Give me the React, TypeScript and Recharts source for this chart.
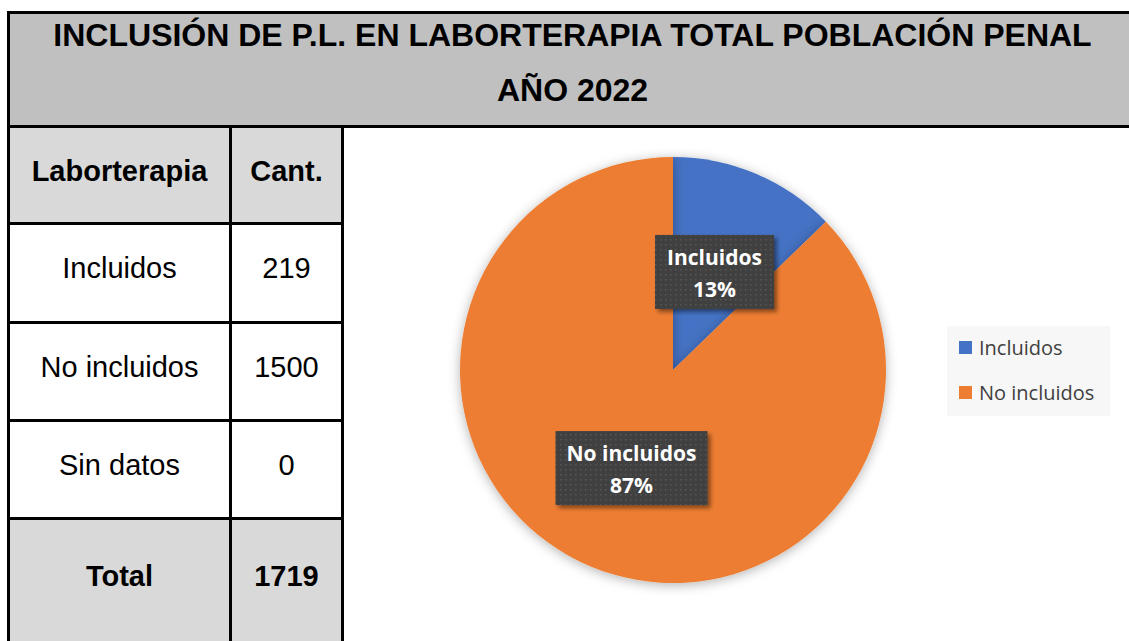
import { PieChart, Pie, Cell, Legend } from "recharts";

const categories = ["Incluidos", "No incluidos"];
const values = [219, 1500];
const sliceColors = ["#4472c4", "#ed7d31"];

const tableLabels = ["Incluidos", "No incluidos", "Sin datos"];
const tableValues = [219, 1500, 0];
const totalValue = 1719;

const titleLines = ["INCLUSIÓN DE P.L. EN LABORTERAPIA TOTAL POBLACIÓN PENAL", "AÑO 2022"];

const pieData = categories.map((name, i) => ({ name, value: values[i] }));

const RAD = Math.PI / 180;
const arial = "'Liberation Sans', Arial, sans-serif";
const calibri = "'Open Sans', Lato, sans-serif";

// etiqueta oscura con texto blanco, como en Excel
function SliceLabel(props: any) {
  const { cx, cy, midAngle, outerRadius, name, percent } = props;
  const r = outerRadius * 0.5;
  const x = cx + r * Math.cos(-midAngle * RAD);
  const y = cy + r * Math.sin(-midAngle * RAD);
  const w = name.length * 11 + 20;
  const h = 74;
  return (
    <g>
      <rect x={x - w / 2} y={y - h / 2} width={w} height={h} fill="url(#dots)" filter="url(#boxShadow)" />
      <text x={x} y={y - 13} textAnchor="middle" dominantBaseline="middle" fill="#fff" fontFamily={calibri} fontWeight={700} fontSize={21}>
        {name}
      </text>
      <text x={x} y={y + 19} textAnchor="middle" dominantBaseline="middle" fill="#fff" fontFamily={calibri} fontWeight={700} fontSize={21}>
        {Math.round(percent * 100)}%
      </text>
    </g>
  );
}

function LegendBox() {
  return (
    <div style={{ background: "#f7f7f7", width: 163, height: 90, boxSizing: "border-box", paddingTop: 10, paddingLeft: 12 }}>
      {categories.map((c, i) => (
        <div key={c} style={{ display: "flex", alignItems: "center", height: 23, marginBottom: i === 0 ? 22 : 0 }}>
          <span style={{ width: 13, height: 13, background: sliceColors[i], marginRight: 7, display: "inline-block" }} />
          <span style={{ fontFamily: calibri, fontSize: 20, color: "#404040" }}>{c}</span>
        </div>
      ))}
    </div>
  );
}

const line = "#000";

function Cell2({ x, y, w, h, text, bold, bg, size }: any) {
  return (
    <div
      style={{
        position: "absolute",
        left: x,
        top: y,
        width: w,
        height: h,
        background: bg,
        display: "flex",
        alignItems: "center",
        justifyContent: "center",
        fontFamily: arial,
        fontWeight: bold ? 700 : 400,
        fontSize: size,
        color: "#000",
        paddingBottom: 8,
        boxSizing: "border-box",
      }}
    >
      {text}
    </div>
  );
}

export default function App() {
  const rowTops = [224, 323, 421];
  return (
    <div style={{ position: "absolute", left: 0, top: 0, width: 1129, height: 641, background: "#fff", overflow: "hidden" }}>
      <svg width={0} height={0} style={{ position: "absolute" }}>
        <defs>
          <pattern id="dots" width={5} height={5} patternUnits="userSpaceOnUse">
            <rect width={5} height={5} fill="#404040" />
            <rect x={1} y={1} width={1.5} height={1.5} fill="#565656" />
          </pattern>
          <filter id="boxShadow" x="-20%" y="-20%" width="140%" height="140%">
            <feDropShadow dx={3} dy={3} stdDeviation={2} floodColor="#000" floodOpacity={0.45} />
          </filter>
          <filter id="pieShadow" x="-20%" y="-20%" width="140%" height="140%">
            <feDropShadow dx={0} dy={2} stdDeviation={6} floodColor="#000" floodOpacity={0.3} />
          </filter>
        </defs>
      </svg>

      {/* título */}
      <div style={{ position: "absolute", left: 7, top: 11, width: 1125, height: 117, background: "#c0c0c0", borderTop: `3px solid ${line}`, borderLeft: `3px solid ${line}`, borderBottom: `3px solid ${line}`, boxSizing: "border-box" }} />
      {titleLines.map((t, i) => (
        <div key={t} style={{ position: "absolute", left: 12, width: 1121, top: 15 + i * 55, height: 40, lineHeight: "40px", textAlign: "center", fontFamily: arial, fontWeight: 700, fontSize: 32, color: "#000" }}>
          {t}
        </div>
      ))}

      {/* tabla */}
      <Cell2 x={10} y={128} w={219} h={94} bg="#d9d9d9" text="Laborterapia" bold size={29} />
      <Cell2 x={232} y={128} w={109} h={94} bg="#d9d9d9" text="Cant." bold size={29} />
      {tableLabels.map((l, i) => (
        <div key={l}>
          <Cell2 x={10} y={rowTops[i]} w={219} h={96} bg="#fff" text={l} size={29} />
          <Cell2 x={232} y={rowTops[i]} w={109} h={96} bg="#fff" text={String(tableValues[i])} size={29} />
        </div>
      ))}
      <Cell2 x={10} y={519} w={219} h={122} bg="#d9d9d9" text="Total" bold size={29} />
      <Cell2 x={232} y={519} w={109} h={122} bg="#d9d9d9" text={String(totalValue)} bold size={29} />
      <div style={{ position: "absolute", left: 7, top: 128, width: 3, height: 513, background: line }} />
      <div style={{ position: "absolute", left: 229, top: 128, width: 3, height: 513, background: line }} />
      <div style={{ position: "absolute", left: 341, top: 128, width: 3, height: 513, background: line }} />
      {[222, 321, 419, 517].map((y) => (
        <div key={y} style={{ position: "absolute", left: 7, top: y, width: 337, height: 2.5, background: line }} />
      ))}

      {/* gráfico */}
      <div style={{ position: "absolute", left: 344, top: 128 }}>
        <PieChart width={785} height={513}>
          <Pie
            data={pieData}
            dataKey="value"
            nameKey="name"
            cx={324}
            cy={237}
            outerRadius={213}
            startAngle={90}
            endAngle={-270}
            stroke="none"
            label={SliceLabel}
            labelLine={false}
            isAnimationActive={false}
            style={{ filter: "url(#pieShadow)" }}
          >
            {pieData.map((d, i) => (
              <Cell key={d.name} fill={sliceColors[i]} />
            ))}
          </Pie>
          <Legend content={() => <LegendBox />} wrapperStyle={{ position: "absolute", left: 603, top: 198, width: 163, height: 90 }} />
        </PieChart>
      </div>
    </div>
  );
}
